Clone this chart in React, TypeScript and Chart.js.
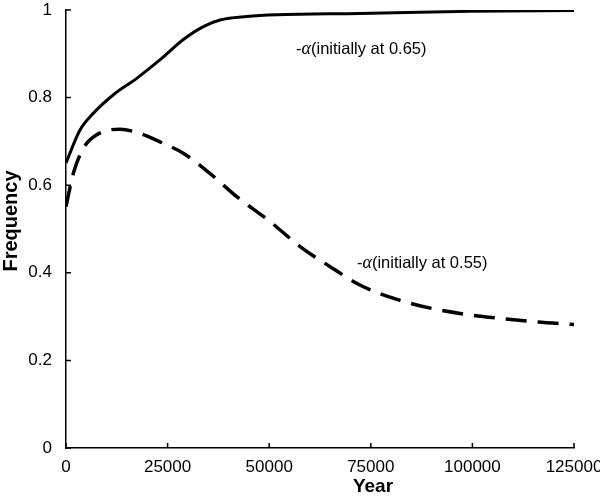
import React, { useEffect, useRef } from "react";
import { Chart, registerables } from "chart.js";

Chart.register(...registerables);

const solidYears = [0, 3445, 6700, 11600, 17400, 23100, 28800, 33800, 37900, 44500, 51800, 72300, 99400, 125000];
const solidFreq = [0.651, 0.726, 0.764, 0.806, 0.844, 0.886, 0.932, 0.962, 0.977, 0.985, 0.989, 0.992, 0.997, 0.999];

const dashedYears = [0, 1800, 4260, 7550, 13300, 18200, 23100, 28860, 35400, 42000, 50200, 57600, 65000, 72300, 80500, 88800, 97800, 106800, 115800, 125000];
const dashedFreq = [0.551, 0.627, 0.684, 0.715, 0.728, 0.718, 0.699, 0.673, 0.627, 0.574, 0.517, 0.46, 0.414, 0.372, 0.342, 0.321, 0.306, 0.296, 0.288, 0.282];

const xTicks = [0, 25000, 50000, 75000, 100000, 125000];
const yTicks = [0, 0.2, 0.4, 0.6, 0.8, 1];

const annotationTexts = ["(initially at 0.65)", "(initially at 0.55)"];
const annotationAnchors = [
  { x: 56600, y: 0.911 },
  { x: 71600, y: 0.422 },
];

const FONT = "'Liberation Sans', Arial, Helvetica, sans-serif";

const decorPlugin = {
  id: "decor",
  afterDraw(chart: any) {
    const ctx = chart.ctx;
    const xs = chart.scales.x;
    const ys = chart.scales.y;
    const area = chart.chartArea;
    ctx.save();
    // inward ticks
    ctx.strokeStyle = "#000";
    ctx.lineWidth = 1.5;
    ctx.beginPath();
    for (const t of xTicks) {
      const px = xs.getPixelForValue(t);
      ctx.moveTo(px, area.bottom);
      ctx.lineTo(px, area.bottom - 5);
    }
    for (const t of yTicks) {
      const py = ys.getPixelForValue(t);
      ctx.moveTo(area.left, py);
      ctx.lineTo(area.left + 5, py);
    }
    ctx.stroke();

    // annotations
    ctx.fillStyle = "#000";
    ctx.textBaseline = "middle";
    ctx.textAlign = "left";
    annotationTexts.forEach((txt, i) => {
      const a = annotationAnchors[i];
      let px = xs.getPixelForValue(a.x);
      const py = ys.getPixelForValue(a.y);
      ctx.font = `16.5px ${FONT}`;
      ctx.fillText("-", px, py);
      px += ctx.measureText("-").width;
      ctx.font = `italic 18px 'Liberation Serif', serif`;
      ctx.fillText("\u03B1", px, py);
      px += ctx.measureText("\u03B1").width;
      ctx.font = `16.5px ${FONT}`;
      ctx.fillText(txt, px, py);
    });

    // axis titles
    ctx.font = `bold 19px ${FONT}`;
    ctx.textAlign = "center";
    ctx.textBaseline = "middle";
    ctx.fillText("Year", 373, 487);
    ctx.translate(11, 221);
    ctx.rotate(-Math.PI / 2);
    ctx.font = `bold 20px ${FONT}`;
    ctx.fillText("Frequency", 0, 0);
    ctx.restore();
  },
};

export default function App() {
  const canvasRef = useRef<HTMLCanvasElement | null>(null);

  useEffect(() => {
    if (!canvasRef.current) return;
    const chart = new Chart(canvasRef.current, {
      type: "line",
      data: {
        datasets: [
          {
            data: solidYears.map((x, i) => ({ x, y: solidFreq[i] })),
            borderColor: "#000",
            borderWidth: 3,
            pointRadius: 0,
            fill: false,
            cubicInterpolationMode: "monotone",
          },
          {
            data: dashedYears.map((x, i) => ({ x, y: dashedFreq[i] })),
            borderColor: "#000",
            borderWidth: 3.5,
            borderDash: [21, 11],
            pointRadius: 0,
            fill: false,
            cubicInterpolationMode: "monotone",
          },
        ],
      },
      options: {
        responsive: false,
        animation: false,
        layout: { padding: { top: 10, right: 26, left: 0, bottom: 0 } },
        plugins: { legend: { display: false }, tooltip: { enabled: false } },
        scales: {
          x: {
            type: "linear",
            min: 0,
            max: 125000,
            grid: { display: false },
            border: { display: true, color: "#000", width: 1.5 },
            ticks: {
              stepSize: 25000,
              color: "#000",
              font: { size: 17, family: FONT },
              padding: 1,
              maxRotation: 0,
              autoSkip: false,
              callback: (v: any) => String(v),
            },
            afterFit: (s: any) => {
              s.height = 52;
              s.paddingLeft = 0;
              s.paddingRight = 0;
            },
          },
          y: {
            min: 0,
            max: 1,
            grid: { display: false },
            border: { display: true, color: "#000", width: 1.5 },
            ticks: {
              stepSize: 0.2,
              color: "#000",
              font: { size: 17, family: FONT },
              padding: 6,
              callback: (v: any) => String(Math.round(v * 10) / 10),
            },
            afterFit: (s: any) => {
              s.width = 66;
              s.paddingTop = 0;
              s.paddingBottom = 0;
            },
          },
        },
      },
      plugins: [decorPlugin],
    } as any);
    return () => chart.destroy();
  }, []);

  return (
    <div style={{ position: "absolute", left: 0, top: 0, width: 600, height: 500, background: "#fff" }}>
      <canvas ref={canvasRef} width={600} height={500} style={{ display: "block" }} />
    </div>
  );
}
